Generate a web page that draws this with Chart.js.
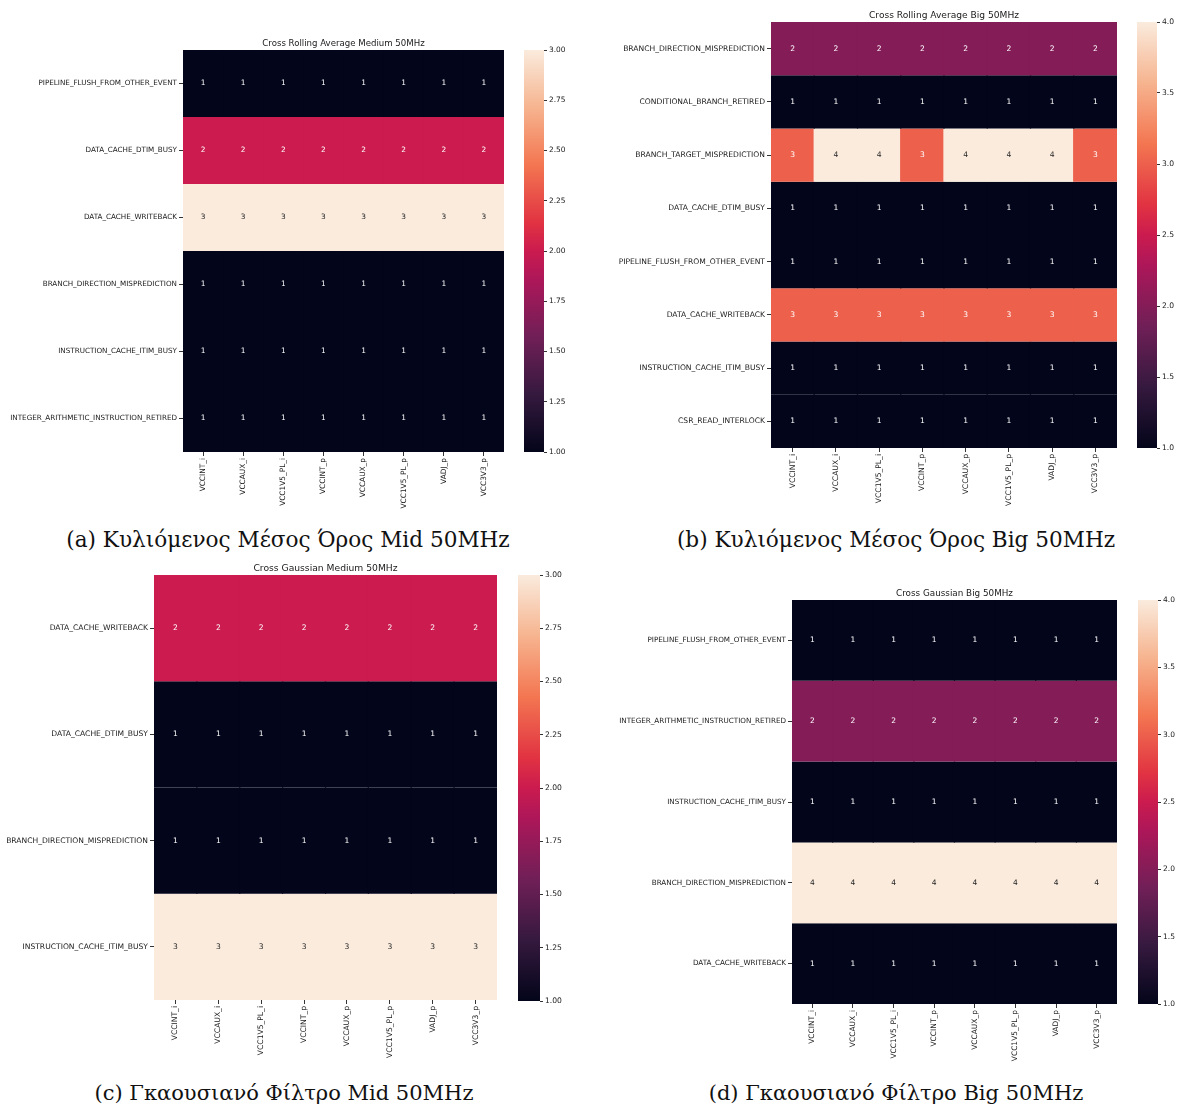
<!DOCTYPE html>
<html>
<head>
<meta charset="utf-8">
<script src="https://cdn.jsdelivr.net/npm/chart.js@4.4.0/dist/chart.umd.min.js"></script>
<style>
  body { margin: 0; background: #fff; width: 1180px; height: 1110px; position: relative; overflow: hidden; }
  canvas { position: absolute; }
  .cap { position: absolute; font-family: "DejaVu Serif", serif; font-size: 21.6px; color: #111; white-space: nowrap; transform: translateX(-50%); }
  .cap.low { font-size: 21px; }
</style>
</head>
<body>
<canvas id="heatA"></canvas><canvas id="barA"></canvas>
<canvas id="heatB"></canvas><canvas id="barB"></canvas>
<canvas id="heatC"></canvas><canvas id="barC"></canvas>
<canvas id="heatD"></canvas><canvas id="barD"></canvas>
<div class="cap" style="left:288px;top:527px">(a) Κυλιόμενος Μέσος Όρος Mid 50MHz</div>
<div class="cap" style="left:896px;top:527px">(b) Κυλιόμενος Μέσος Όρος Big 50MHz</div>
<div class="cap low" style="left:284px;top:1081px">(c) Γκαουσιανό Φίλτρο Mid 50MHz</div>
<div class="cap low" style="left:896px;top:1081px">(d) Γκαουσιανό Φίλτρο Big 50MHz</div>
<script>
// columns shared by all four heatmaps
var columns = ['VCCINT_i', 'VCCAUX_i', 'VCC1V5_PL_i', 'VCCINT_p', 'VCCAUX_p', 'VCC1V5_PL_p', 'VADJ_p', 'VCC3V3_p'];

// (a) rolling average, medium
var rowsA = ['PIPELINE_FLUSH_FROM_OTHER_EVENT', 'DATA_CACHE_DTIM_BUSY', 'DATA_CACHE_WRITEBACK',
  'BRANCH_DIRECTION_MISPREDICTION', 'INSTRUCTION_CACHE_ITIM_BUSY', 'INTEGER_ARITHMETIC_INSTRUCTION_RETIRED'];
var valuesA = [
  [1, 1, 1, 1, 1, 1, 1, 1],
  [2, 2, 2, 2, 2, 2, 2, 2],
  [3, 3, 3, 3, 3, 3, 3, 3],
  [1, 1, 1, 1, 1, 1, 1, 1],
  [1, 1, 1, 1, 1, 1, 1, 1],
  [1, 1, 1, 1, 1, 1, 1, 1]
];

// (b) rolling average, big
var rowsB = ['BRANCH_DIRECTION_MISPREDICTION', 'CONDITIONAL_BRANCH_RETIRED', 'BRANCH_TARGET_MISPREDICTION',
  'DATA_CACHE_DTIM_BUSY', 'PIPELINE_FLUSH_FROM_OTHER_EVENT', 'DATA_CACHE_WRITEBACK',
  'INSTRUCTION_CACHE_ITIM_BUSY', 'CSR_READ_INTERLOCK'];
var valuesB = [
  [2, 2, 2, 2, 2, 2, 2, 2],
  [1, 1, 1, 1, 1, 1, 1, 1],
  [3, 4, 4, 3, 4, 4, 4, 3],
  [1, 1, 1, 1, 1, 1, 1, 1],
  [1, 1, 1, 1, 1, 1, 1, 1],
  [3, 3, 3, 3, 3, 3, 3, 3],
  [1, 1, 1, 1, 1, 1, 1, 1],
  [1, 1, 1, 1, 1, 1, 1, 1]
];

// (c) gaussian, medium
var rowsC = ['DATA_CACHE_WRITEBACK', 'DATA_CACHE_DTIM_BUSY', 'BRANCH_DIRECTION_MISPREDICTION', 'INSTRUCTION_CACHE_ITIM_BUSY'];
var valuesC = [
  [2, 2, 2, 2, 2, 2, 2, 2],
  [1, 1, 1, 1, 1, 1, 1, 1],
  [1, 1, 1, 1, 1, 1, 1, 1],
  [3, 3, 3, 3, 3, 3, 3, 3]
];

// (d) gaussian, big
var rowsD = ['PIPELINE_FLUSH_FROM_OTHER_EVENT', 'INTEGER_ARITHMETIC_INSTRUCTION_RETIRED',
  'INSTRUCTION_CACHE_ITIM_BUSY', 'BRANCH_DIRECTION_MISPREDICTION', 'DATA_CACHE_WRITEBACK'];
var valuesD = [
  [1, 1, 1, 1, 1, 1, 1, 1],
  [2, 2, 2, 2, 2, 2, 2, 2],
  [1, 1, 1, 1, 1, 1, 1, 1],
  [4, 4, 4, 4, 4, 4, 4, 4],
  [1, 1, 1, 1, 1, 1, 1, 1]
];

var ticksA = [1, 1.25, 1.5, 1.75, 2, 2.25, 2.5, 2.75, 3];
var ticksB = [1, 1.5, 2, 2.5, 3, 3.5, 4];

Chart.defaults.font.family = '"DejaVu Sans", sans-serif';
var ink = '#1a1a1a';

// seaborn "rocket"
var rocketStops = [
  [0, '#03051a'], [0.143, '#35193e'], [0.286, '#701f57'], [0.429, '#ad1759'],
  [0.5, '#cb1b4f'], [0.571, '#e13342'], [0.714, '#f37651'], [0.857, '#f6b48f'], [1, '#faebdd']
];

function hexRgb(h) {
  return [parseInt(h.substr(1, 2), 16), parseInt(h.substr(3, 2), 16), parseInt(h.substr(5, 2), 16)];
}

function rocket(t) {
  t = Math.max(0, Math.min(1, t));
  for (var k = 1; k < rocketStops.length; k++) {
    if (t <= rocketStops[k][0]) {
      var a = rocketStops[k - 1], b = rocketStops[k];
      var f = (t - a[0]) / (b[0] - a[0]);
      var ca = hexRgb(a[1]), cb = hexRgb(b[1]);
      var c = ca.map(function (v, i) { return Math.round(v + (cb[i] - v) * f); });
      return 'rgb(' + c.join(',') + ')';
    }
  }
  return rocketStops[rocketStops.length - 1][1];
}

function textOn(color) {
  var c = color.match(/\d+/g).map(Number).map(function (v) {
    v = v / 255;
    return v <= 0.03928 ? v / 12.92 : Math.pow((v + 0.055) / 1.055, 2.4);
  });
  var lum = 0.2126 * c[0] + 0.7152 * c[1] + 0.0722 * c[2];
  return lum > 0.408 ? '#262626' : '#ffffff';
}

// cell numbers + a title centred over the cells (not over the whole canvas)
var annotPlugin = {
  id: 'annot',
  afterDatasetsDraw: function (chart, args, opts) {
    var ctx = chart.ctx, x = chart.scales.x, y = chart.scales.y, area = chart.chartArea;
    ctx.save();
    ctx.font = opts.size + 'px "DejaVu Sans"';
    ctx.textAlign = 'center';
    ctx.textBaseline = 'middle';
    opts.values.forEach(function (row, i) {
      row.forEach(function (v, j) {
        ctx.fillStyle = textOn(rocket((v - opts.vmin) / (opts.vmax - opts.vmin)));
        ctx.fillText(String(v), x.getPixelForValue(j), y.getPixelForValue(i + 0.5));
      });
    });
    ctx.fillStyle = ink;
    ctx.font = opts.titleSize + 'px "DejaVu Sans"';
    ctx.textBaseline = 'alphabetic';
    ctx.fillText(opts.title, (area.left + area.right) / 2, area.top - 4);
    ctx.restore();
  }
};

function heatmap(id, title, rows, values, vmin, vmax, left, top, labelW, w, h, sizes) {
  var titleH = 14, xLabH = 62;
  var canvas = document.getElementById(id);
  canvas.width = labelW + w;
  canvas.height = titleH + h + xLabH;
  canvas.style.left = left + 'px';
  canvas.style.top = (top - titleH) + 'px';

  var datasets = rows.map(function (r, i) {
    return {
      label: r,
      data: values[i].map(function () { return [i, i + 1]; }),
      backgroundColor: values[i].map(function (v) { return rocket((v - vmin) / (vmax - vmin)); }),
      borderWidth: 0,
      barPercentage: 1.03,
      categoryPercentage: 1,
      grouped: false
    };
  });

  new Chart(canvas, {
    type: 'bar',
    data: { labels: columns, datasets: datasets },
    options: {
      responsive: false,
      animation: false,
      layout: { padding: { top: titleH } },
      plugins: {
        legend: { display: false },
        tooltip: { enabled: false },
        annot: { values: values, vmin: vmin, vmax: vmax, title: title, titleSize: sizes.title, size: sizes.tick }
      },
      scales: {
        x: {
          grid: { offset: false, drawOnChartArea: false, tickLength: 4, tickColor: '#333' },
          border: { display: false },
          ticks: { autoSkip: false, maxRotation: 90, minRotation: 90, font: { size: sizes.tick }, color: ink, padding: 2 },
          afterFit: function (s) { s.height = xLabH; }
        },
        y: {
          min: 0,
          max: rows.length,
          reverse: true,
          afterBuildTicks: function (s) { s.ticks = rows.map(function (_, i) { return { value: i + 0.5 }; }); },
          ticks: { autoSkip: false, font: { size: sizes.label }, color: ink, padding: 2,
            callback: function (v) { return rows[Math.floor(v)]; } },
          grid: { drawOnChartArea: false, tickLength: 4, tickColor: '#333' },
          border: { display: false },
          afterFit: function (s) { s.width = labelW; }
        }
      }
    },
    plugins: [annotPlugin]
  });
}

function colorbar(id, vmin, vmax, ticks, digits, left, top, w, h, size) {
  var pad = 8, axisW = 32;
  var canvas = document.getElementById(id);
  canvas.width = w + axisW;
  canvas.height = h + 2 * pad;
  canvas.style.left = left + 'px';
  canvas.style.top = (top - pad) + 'px';

  new Chart(canvas, {
    type: 'bar',
    data: {
      labels: [''],
      datasets: [{
        data: [[vmin, vmax]],
        backgroundColor: function (c) {
          var ca = c.chart.chartArea;
          if (!ca) return null;
          var g = c.chart.ctx.createLinearGradient(0, ca.bottom, 0, ca.top);
          rocketStops.forEach(function (s) { g.addColorStop(s[0], s[1]); });
          return g;
        },
        borderWidth: 0,
        barPercentage: 1,
        categoryPercentage: 1
      }]
    },
    options: {
      responsive: false,
      animation: false,
      layout: { padding: { top: pad, bottom: pad } },
      plugins: { legend: { display: false }, tooltip: { enabled: false } },
      scales: {
        x: { display: false },
        y: {
          position: 'right',
          min: vmin,
          max: vmax,
          afterBuildTicks: function (s) { s.ticks = ticks.map(function (v) { return { value: v }; }); },
          ticks: { font: { size: size }, color: ink, padding: 2, callback: function (v) { return v.toFixed(digits); } },
          grid: { drawOnChartArea: false, tickLength: 3, tickColor: '#333' },
          border: { display: false },
          afterFit: function (s) { s.width = axisW; }
        }
      }
    }
  });
}

heatmap('heatA', 'Cross Rolling Average Medium 50MHz', rowsA, valuesA, 1, 3, 0, 50, 183, 321, 402,
  { title: 8.6, label: 7.2, tick: 7.4 });
colorbar('barA', 1, 3, ticksA, 2, 524, 50, 20, 402, 7.4);

heatmap('heatB', 'Cross Rolling Average Big 50MHz', rowsB, valuesB, 1, 4, 600, 22, 171, 346, 426,
  { title: 9.1, label: 7.6, tick: 7.6 });
colorbar('barB', 1, 4, ticksB, 1, 1137, 22, 20, 426, 7.6);

heatmap('heatC', 'Cross Gaussian Medium 50MHz', rowsC, valuesC, 1, 3, 0, 575, 154, 343, 425,
  { title: 9.2, label: 7.6, tick: 7.6 });
colorbar('barC', 1, 3, ticksA, 2, 518, 575, 22, 426, 7.6);

heatmap('heatD', 'Cross Gaussian Big 50MHz', rowsD, valuesD, 1, 4, 600, 600, 192, 325, 404,
  { title: 8.8, label: 7.2, tick: 7.5 });
colorbar('barD', 1, 4, ticksB, 1, 1138, 600, 20, 404, 7.5);
</script>
</body>
</html>
